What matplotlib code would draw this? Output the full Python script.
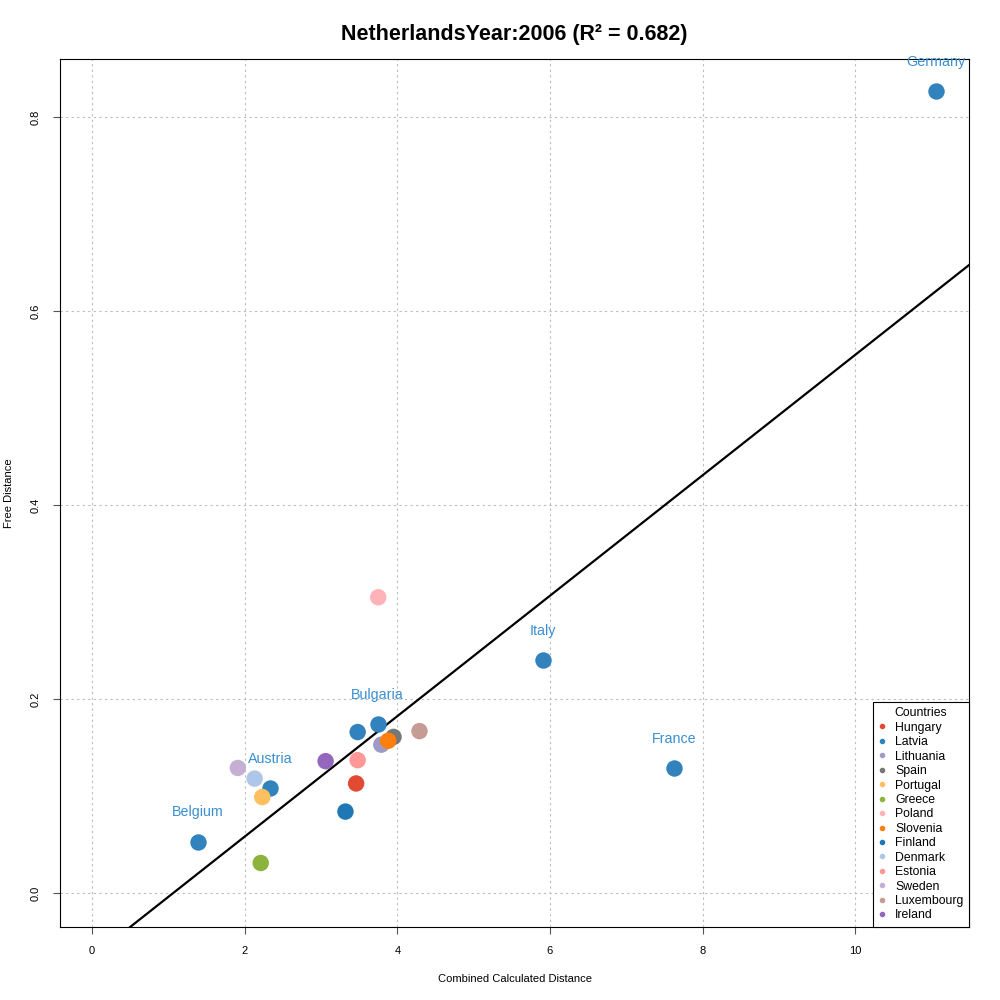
import numpy as np
import matplotlib
matplotlib.use("Agg")
import matplotlib.pyplot as plt
from matplotlib.lines import Line2D

plt.rcParams['font.family'] = ['Liberation Sans', 'DejaVu Sans']

##### Data #####
labelled = ['Germany', 'Italy', 'France', 'Belgium', 'Austria', 'Bulgaria']
labelled_x = [11.06, 5.91, 7.63, 1.39, 2.33, 3.74]
labelled_y = [0.827, 0.240, 0.129, 0.053, 0.108, 0.174]

countries = ['Hungary', 'Latvia', 'Lithuania', 'Spain', 'Portugal', 'Greece', 'Poland',
             'Slovenia', 'Finland', 'Denmark', 'Estonia', 'Sweden', 'Luxembourg', 'Ireland']
country_x = [3.46, 3.48, 3.79, 3.95, 2.23, 2.21, 3.75, 3.88, 3.32, 2.13, 3.48, 1.91, 4.29, 3.06]
country_y = [0.113, 0.166, 0.153, 0.161, 0.099, 0.031, 0.305, 0.157, 0.084, 0.118, 0.137, 0.129, 0.167, 0.136]
country_col = ['#e34a33', '#3182bd', '#9e9ac8', '#777777', '#fdbf5f', '#8cb43c', '#ffb3b9',
               '#ff7f0e', '#1f77b4', '#aec7e8', '#ff9896', '#c5b0d5', '#c49c94', '#9467bd']

label_col = '#3182bd'
fit_slope = 0.0621
fit_intercept = -0.066
r2 = 0.682

########################

fig = plt.figure(figsize=(10, 10), dpi=100)
ax = fig.add_axes([0.06, 0.073, 0.909, 0.868])

ax.set_xlim(-0.42, 11.49)
ax.set_ylim(-0.035, 0.86)
ax.set_xticks([0, 2, 4, 6, 8, 10])
ax.set_yticks([0.0, 0.2, 0.4, 0.6, 0.8])
ax.set_yticklabels(['0.0', '0.2', '0.4', '0.6', '0.8'], rotation=90, va='center')
ax.tick_params(labelsize=8, length=5, color='#555555', pad=9)
ax.grid(True, linestyle=(0, (2, 3)), color='#bbbbbb', linewidth=0.8)
ax.set_axisbelow(True)
for s in ax.spines.values():
    s.set_linewidth(0.8)

ax.axline((0, fit_intercept), slope=fit_slope, color='black', linewidth=1.6, zorder=2)

ax.scatter(labelled_x, labelled_y, s=140, color=label_col, zorder=3, linewidths=0)
ax.scatter(country_x, country_y, s=140, c=country_col, zorder=3, linewidths=0)

for name, x, y in zip(labelled, labelled_x, labelled_y):
    ax.annotate(name, (x, y), xytext=(0, 21), textcoords='offset points',
                ha='center', va='center', color='#3a8fd0', fontsize=10.3)

handles = [Line2D([], [], marker='o', linestyle='', color=c, markersize=3)
           for c in country_col]
leg = ax.legend(handles, countries, title='Countries', loc='lower right',
                borderaxespad=0, fancybox=False, framealpha=1, fontsize=8.8,
                title_fontsize=8.8, handlelength=0.6, handletextpad=0.8,
                labelspacing=0.2, borderpad=0.45)
leg.get_frame().set_edgecolor('black')
leg.get_frame().set_linewidth(0.8)

ax.set_title('NetherlandsYear:2006 (R² = {:.3f})'.format(r2), fontsize=15.5,
             fontweight='bold', pad=14)
ax.set_xlabel('Combined Calculated Distance', fontsize=8, labelpad=13)
ax.set_ylabel('Free Distance', fontsize=8, labelpad=12)

fig.savefig('out.png', dpi=100)
